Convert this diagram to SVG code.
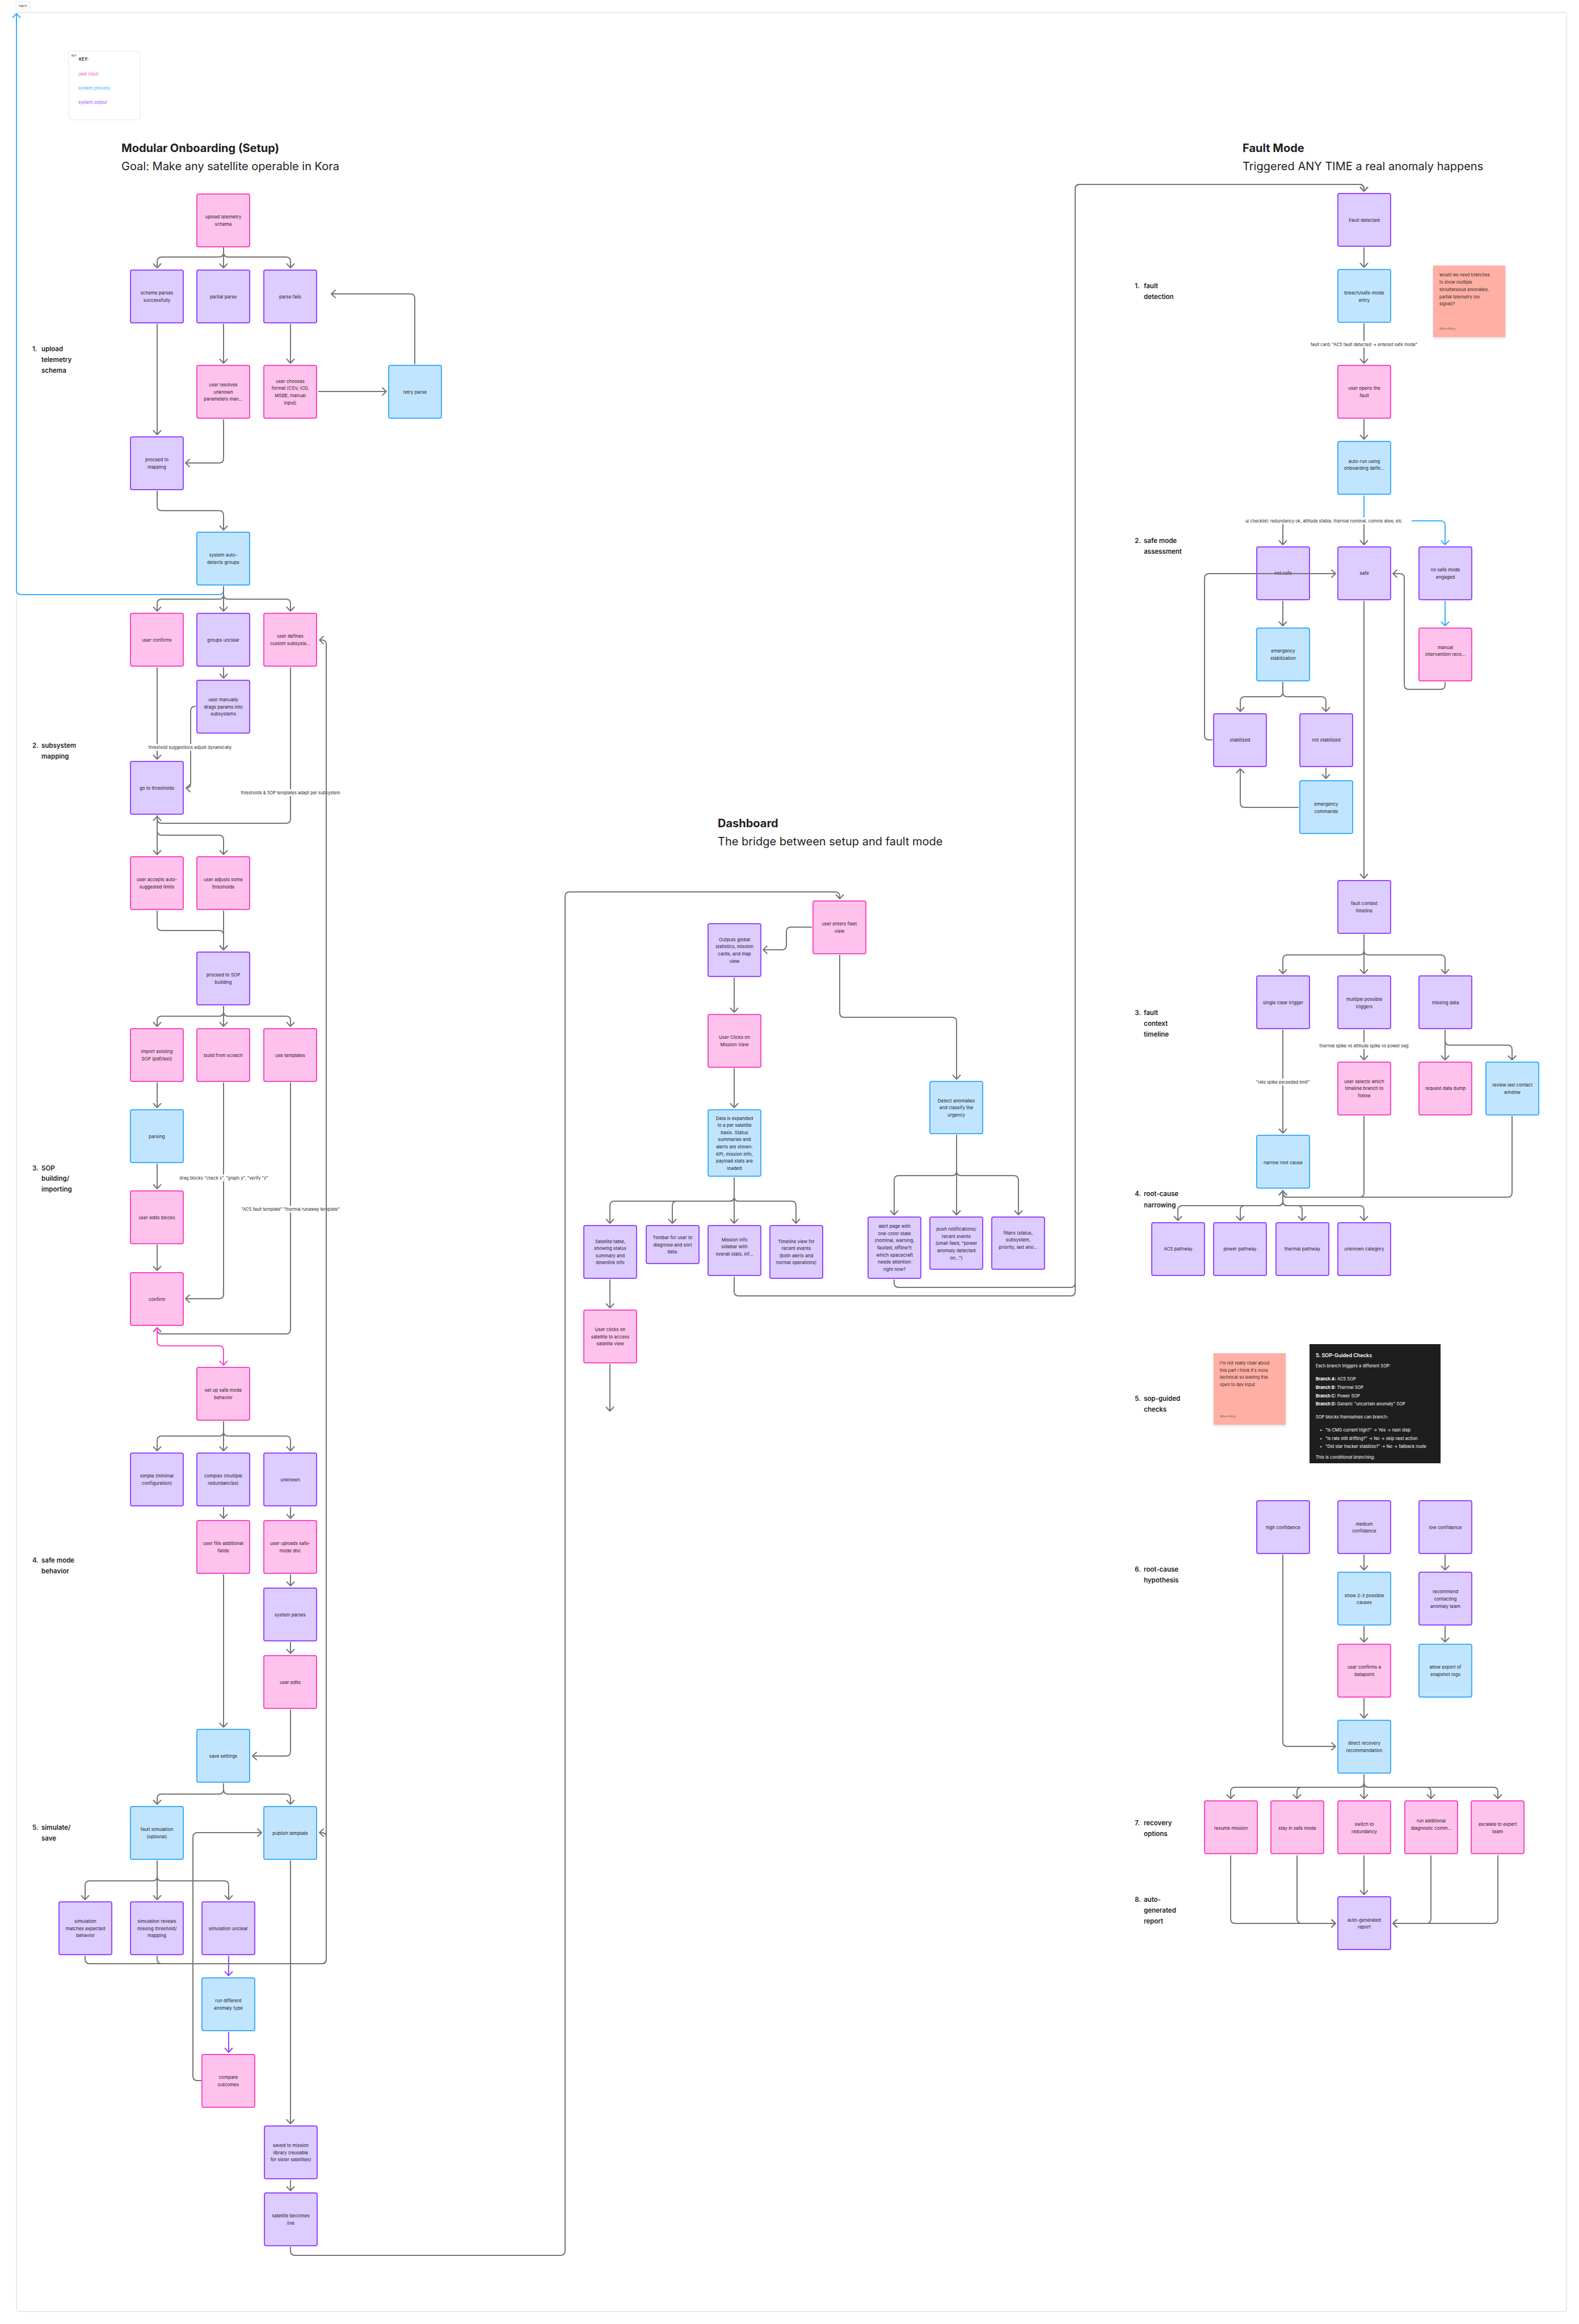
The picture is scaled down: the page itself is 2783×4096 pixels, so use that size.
<svg xmlns="http://www.w3.org/2000/svg" width="2783" height="4096" viewBox="0 0 2783 4096">
<defs>
<style>
.pk{fill:#FFC2EC;stroke:#F849C1;stroke-width:2}
.pu{fill:#DCCCFF;stroke:#9747FF;stroke-width:2}
.bl{fill:#C2E5FF;stroke:#3DADFF;stroke-width:2}
.t{font-family:Inter,'Liberation Sans',sans-serif;font-size:8px;fill:#1E1E1E;text-anchor:middle;dominant-baseline:central}
.sl{font-family:Inter,'Liberation Sans',sans-serif;font-size:11.5px;font-weight:600;fill:#1E1E1E;dominant-baseline:central}
.h1{font-family:Inter,'Liberation Sans',sans-serif;font-size:20px;font-weight:700;fill:#1E1E1E;dominant-baseline:central}
.h2{font-family:Inter,'Liberation Sans',sans-serif;font-size:20px;fill:#1E1E1E;dominant-baseline:central}
.c{fill:none;stroke:#757575;stroke-width:2;marker-end:url(#a)}
.cp{fill:none;stroke:#F849C1;stroke-width:2;marker-end:url(#ap);marker-start:url(#ap)}
.cb{fill:none;stroke:#3DADFF;stroke-width:2;marker-end:url(#ab)}
.cv{fill:none;stroke:#9747FF;stroke-width:2;marker-end:url(#av)}
.lbg{fill:#FFFFFF}
.lb{font-family:Inter,'Liberation Sans',sans-serif;font-size:7.5px;fill:#1E1E1E;text-anchor:middle;dominant-baseline:central}
.st{font-family:Inter,'Liberation Sans',sans-serif;font-size:7.5px;fill:#1E1E1E;dominant-baseline:central}
.au{font-family:Inter,'Liberation Sans',sans-serif;font-size:4.5px;fill:#6b5a57;dominant-baseline:central}
.dk{font-family:Inter,'Liberation Sans',sans-serif;font-size:7.5px;fill:#FFFFFF;dominant-baseline:central}
</style>
<marker id="a" viewBox="-10 -8 12 16" refX="0" refY="0" markerWidth="12" markerHeight="16" markerUnits="userSpaceOnUse" orient="auto"><path d="M-7,-6.5 L0,0 L-7,6.5" fill="none" stroke="#757575" stroke-width="2" stroke-linecap="round" stroke-linejoin="round"/></marker>
<marker id="ap" viewBox="-10 -8 12 16" refX="0" refY="0" markerWidth="12" markerHeight="16" markerUnits="userSpaceOnUse" orient="auto-start-reverse"><path d="M-7,-6.5 L0,0 L-7,6.5" fill="none" stroke="#F849C1" stroke-width="2" stroke-linecap="round" stroke-linejoin="round"/></marker>
<marker id="ab" viewBox="-10 -8 12 16" refX="0" refY="0" markerWidth="12" markerHeight="16" markerUnits="userSpaceOnUse" orient="auto"><path d="M-7,-6.5 L0,0 L-7,6.5" fill="none" stroke="#3DADFF" stroke-width="2" stroke-linecap="round" stroke-linejoin="round"/></marker>
<marker id="av" viewBox="-10 -8 12 16" refX="0" refY="0" markerWidth="12" markerHeight="16" markerUnits="userSpaceOnUse" orient="auto"><path d="M-7,-6.5 L0,0 L-7,6.5" fill="none" stroke="#9747FF" stroke-width="2" stroke-linecap="round" stroke-linejoin="round"/></marker>
<filter id="sh" x="-10%" y="-10%" width="120%" height="130%"><feDropShadow dx="0" dy="2" stdDeviation="2" flood-color="#000" flood-opacity="0.15"/></filter>
</defs>
<rect x="0" y="0" width="2783" height="4096" fill="#FFFFFF"/>
<g id="frame">
<rect x="29" y="22" width="2732" height="4052" rx="4" fill="#FFFFFF" stroke="#E3E3E3" stroke-width="1.5"/>
<rect x="28" y="3" width="24" height="14" rx="2" fill="#FFFFFF" stroke="#E6E6E6" stroke-width="1"/>
<text x="40" y="10" class="lb" style="font-size:5px">logic2</text>
</g>
<g id="legend">
<rect x="121" y="90" width="126" height="121" rx="5" fill="#FFFFFF" stroke="#E6E6E6" stroke-width="1"/>
<text x="126" y="98" class="st" style="font-size:4.5px">KEY</text>
<text x="139" y="104" class="st" style="font-weight:600">KEY:</text>
<text x="138" y="130" class="st" style="fill:#F24EC0">user input</text>
<text x="138" y="155" class="st" style="fill:#3DADFF">system process</text>
<text x="138" y="180" class="st" style="fill:#9747FF">system output</text>
</g>
<g id="titles">
<text x="214" y="261" class="h1">Modular Onboarding (Setup)</text>
<text x="214" y="293" class="h2">Goal: Make any satellite operable in Kora</text>
<text x="1265" y="1451" class="h1">Dashboard</text>
<text x="1265" y="1483" class="h2">The bridge between setup and fault mode</text>
<text x="2190" y="261" class="h1">Fault Mode</text>
<text x="2190" y="293" class="h2">Triggered ANY TIME a real anomaly happens</text>
</g>
<g id="section-labels">
<text class="sl" x="57" y="615">1.</text><text class="sl" x="73" y="615">upload</text><text class="sl" x="73" y="634">telemetry</text><text class="sl" x="73" y="653">schema</text>
<text class="sl" x="57" y="1314">2.</text><text class="sl" x="73" y="1314">subsystem</text><text class="sl" x="73" y="1333">mapping</text>
<text class="sl" x="57" y="2059">3.</text><text class="sl" x="73" y="2059">SOP</text><text class="sl" x="73" y="2077">building/</text><text class="sl" x="73" y="2096">importing</text>
<text class="sl" x="57" y="2750">4.</text><text class="sl" x="73" y="2750">safe mode</text><text class="sl" x="73" y="2769">behavior</text>
<text class="sl" x="57" y="3221">5.</text><text class="sl" x="73" y="3221">simulate/</text><text class="sl" x="73" y="3240">save</text>
<text class="sl" x="2000" y="504">1.</text><text class="sl" x="2016" y="504">fault</text><text class="sl" x="2016" y="523">detection</text>
<text class="sl" x="2000" y="953">2.</text><text class="sl" x="2016" y="953">safe mode</text><text class="sl" x="2016" y="972">assessment</text>
<text class="sl" x="2000" y="1785">3.</text><text class="sl" x="2016" y="1785">fault</text><text class="sl" x="2016" y="1804">context</text><text class="sl" x="2016" y="1823">timeline</text>
<text class="sl" x="2000" y="2104">4.</text><text class="sl" x="2016" y="2104">root-cause</text><text class="sl" x="2016" y="2124">narrowing</text>
<text class="sl" x="2000" y="2465">5.</text><text class="sl" x="2016" y="2465">sop-guided</text><text class="sl" x="2016" y="2484">checks</text>
<text class="sl" x="2000" y="2766">6.</text><text class="sl" x="2016" y="2766">root-cause</text><text class="sl" x="2016" y="2785">hypothesis</text>
<text class="sl" x="2000" y="3213">7.</text><text class="sl" x="2016" y="3213">recovery</text><text class="sl" x="2016" y="3232">options</text>
<text class="sl" x="2000" y="3348">8.</text><text class="sl" x="2016" y="3348">auto-</text><text class="sl" x="2016" y="3367">generated</text><text class="sl" x="2016" y="3386">report</text>
</g>

<g id="n-upload"><rect class="pk" x="347" y="342" width="93" height="93" rx="3"/><text class="t"><tspan x="393.5" y="382">upload telemetry</tspan><tspan x="393.5" y="395">schema</tspan></text></g>
<g id="n-scheme-parses"><rect class="pu" x="230" y="476" width="93" height="93" rx="3"/><text class="t"><tspan x="276.5" y="516">scheme parses</tspan><tspan x="276.5" y="529">successfully</tspan></text></g>
<g id="n-partial-parse"><rect class="pu" x="347" y="476" width="93" height="93" rx="3"/><text class="t" x="393.5" y="522.5">partial parse</text></g>
<g id="n-parse-fails"><rect class="pu" x="465" y="476" width="93" height="93" rx="3"/><text class="t" x="511.5" y="522.5">parse fails</text></g>
<g id="n-user-resolves"><rect class="pk" x="347" y="644" width="93" height="93" rx="3"/><text class="t"><tspan x="393.5" y="678">user resolves</tspan><tspan x="393.5" y="690.5">unknown</tspan><tspan x="393.5" y="703">parameters man...</tspan></text></g>
<g id="n-user-chooses"><rect class="pk" x="465" y="644" width="93" height="93" rx="3"/><text class="t"><tspan x="511.5" y="671.5">user chooses</tspan><tspan x="511.5" y="684">format (CSV, ICD,</tspan><tspan x="511.5" y="697">MSBE, manual</tspan><tspan x="511.5" y="709.5">input)</tspan></text></g>
<g id="n-retry-parse"><rect class="bl" x="685" y="644" width="93" height="93" rx="3"/><text class="t" x="731.5" y="690.5">retry parse</text></g>
<g id="n-proceed-mapping"><rect class="pu" x="230" y="770" width="93" height="93" rx="3"/><text class="t"><tspan x="276.5" y="810">proceed to</tspan><tspan x="276.5" y="823">mapping</tspan></text></g>
<g id="n-system-auto"><rect class="bl" x="347" y="938" width="93" height="93" rx="3"/><text class="t"><tspan x="393.5" y="978">system auto-</tspan><tspan x="393.5" y="991">detects groups</tspan></text></g>
<g id="n-user-confirms"><rect class="pk" x="230" y="1081" width="93" height="93" rx="3"/><text class="t" x="276.5" y="1127.5">user confirms</text></g>
<g id="n-groups-unclear"><rect class="pu" x="347" y="1081" width="93" height="93" rx="3"/><text class="t" x="393.5" y="1127.5">groups unclear</text></g>
<g id="n-user-defines"><rect class="pk" x="465" y="1081" width="93" height="93" rx="3"/><text class="t"><tspan x="511.5" y="1121">user defines</tspan><tspan x="511.5" y="1134">custom subsyste...</tspan></text></g>
<g id="n-user-drags"><rect class="pu" x="347" y="1199" width="93" height="93" rx="3"/><text class="t"><tspan x="393.5" y="1233">user manually</tspan><tspan x="393.5" y="1245.5">drags params into</tspan><tspan x="393.5" y="1258">subsystems</tspan></text></g>
<g id="n-go-thresholds"><rect class="pu" x="230" y="1342" width="93" height="93" rx="3"/><text class="t" x="276.5" y="1388.5">go to thresholds</text></g>
<g id="n-user-accepts"><rect class="pk" x="230" y="1510" width="93" height="93" rx="3"/><text class="t"><tspan x="276.5" y="1550">user accepts auto-</tspan><tspan x="276.5" y="1563">suggested limits</tspan></text></g>
<g id="n-user-adjusts"><rect class="pk" x="347" y="1510" width="93" height="93" rx="3"/><text class="t"><tspan x="393.5" y="1550">user adjusts some</tspan><tspan x="393.5" y="1563">thresholds</tspan></text></g>
<g id="n-proceed-sop"><rect class="pu" x="347" y="1678" width="93" height="93" rx="3"/><text class="t"><tspan x="393.5" y="1718">proceed to SOP</tspan><tspan x="393.5" y="1731">building</tspan></text></g>
<g id="n-import-sop"><rect class="pk" x="230" y="1813" width="93" height="93" rx="3"/><text class="t"><tspan x="276.5" y="1853">import existing</tspan><tspan x="276.5" y="1866">SOP (pdf/text)</tspan></text></g>
<g id="n-build-scratch"><rect class="pk" x="347" y="1813" width="93" height="93" rx="3"/><text class="t" x="393.5" y="1859.5">build from scratch</text></g>
<g id="n-use-templates"><rect class="pk" x="465" y="1813" width="93" height="93" rx="3"/><text class="t" x="511.5" y="1859.5">use templates</text></g>
<g id="n-parsing"><rect class="bl" x="230" y="1956" width="93" height="93" rx="3"/><text class="t" x="276.5" y="2002.5">parsing</text></g>
<g id="n-user-edits-blocks"><rect class="pk" x="230" y="2099" width="93" height="93" rx="3"/><text class="t" x="276.5" y="2145.5">user edits blocks</text></g>
<g id="n-confirm"><rect class="pk" x="230" y="2243" width="93" height="93" rx="3"/><text class="t" x="276.5" y="2289.5">confirm</text></g>
<g id="n-setup-safe"><rect class="pk" x="347" y="2410" width="93" height="93" rx="3"/><text class="t"><tspan x="393.5" y="2450">set up safe mode</tspan><tspan x="393.5" y="2463">behavior</tspan></text></g>
<g id="n-simple"><rect class="pu" x="230" y="2561" width="93" height="93" rx="3"/><text class="t"><tspan x="276.5" y="2601">simple (minimal</tspan><tspan x="276.5" y="2614">configuration)</tspan></text></g>
<g id="n-complex"><rect class="pu" x="347" y="2561" width="93" height="93" rx="3"/><text class="t"><tspan x="393.5" y="2601">complex (multiple</tspan><tspan x="393.5" y="2614">redundancies)</tspan></text></g>
<g id="n-unknown"><rect class="pu" x="465" y="2561" width="93" height="93" rx="3"/><text class="t" x="511.5" y="2607.5">unknown</text></g>
<g id="n-user-fills"><rect class="pk" x="347" y="2680" width="93" height="93" rx="3"/><text class="t"><tspan x="393.5" y="2720">user fills additional</tspan><tspan x="393.5" y="2733">fields</tspan></text></g>
<g id="n-user-uploads"><rect class="pk" x="465" y="2680" width="93" height="93" rx="3"/><text class="t"><tspan x="511.5" y="2720">user uploads safe-</tspan><tspan x="511.5" y="2733">mode doc</tspan></text></g>
<g id="n-system-parses"><rect class="pu" x="465" y="2799" width="93" height="93" rx="3"/><text class="t" x="511.5" y="2845.5">system parses</text></g>
<g id="n-user-edits"><rect class="pk" x="465" y="2918" width="93" height="93" rx="3"/><text class="t" x="511.5" y="2964.5">user edits</text></g>
<g id="n-save-settings"><rect class="bl" x="347" y="3048" width="93" height="93" rx="3"/><text class="t" x="393.5" y="3094.5">save settings</text></g>
<g id="n-fault-sim"><rect class="bl" x="230" y="3184" width="93" height="93" rx="3"/><text class="t"><tspan x="276.5" y="3224">fault simulation</tspan><tspan x="276.5" y="3237">(optional)</tspan></text></g>
<g id="n-publish"><rect class="bl" x="465" y="3184" width="93" height="93" rx="3"/><text class="t" x="511.5" y="3230.5">publish template</text></g>
<g id="n-sim-matches"><rect class="pu" x="104" y="3352" width="93" height="93" rx="3"/><text class="t"><tspan x="150.5" y="3386">simulation</tspan><tspan x="150.5" y="3398.5">matches expected</tspan><tspan x="150.5" y="3411">behavior</tspan></text></g>
<g id="n-sim-reveals"><rect class="pu" x="230" y="3352" width="93" height="93" rx="3"/><text class="t"><tspan x="276.5" y="3386">simulation reveals</tspan><tspan x="276.5" y="3398.5">missing threshold/</tspan><tspan x="276.5" y="3411">mapping</tspan></text></g>
<g id="n-sim-unclear"><rect class="pu" x="356" y="3352" width="93" height="93" rx="3"/><text class="t" x="402.5" y="3398.5">simulation unclear</text></g>
<g id="n-run-different"><rect class="bl" x="356" y="3486" width="93" height="93" rx="3"/><text class="t"><tspan x="402.5" y="3526">run different</tspan><tspan x="402.5" y="3539">anomaly type</tspan></text></g>
<g id="n-compare"><rect class="pk" x="356" y="3621" width="93" height="93" rx="3"/><text class="t"><tspan x="402.5" y="3661">compare</tspan><tspan x="402.5" y="3674">outcomes</tspan></text></g>
<g id="n-saved-library"><rect class="pu" x="466" y="3747" width="93" height="93" rx="3"/><text class="t"><tspan x="512.5" y="3781">saved to mission</tspan><tspan x="512.5" y="3793.5">library (reusable</tspan><tspan x="512.5" y="3806">for sister satellites)</tspan></text></g>
<g id="n-satellite-live"><rect class="pu" x="466" y="3865" width="93" height="93" rx="3"/><text class="t"><tspan x="512.5" y="3905">satellite becomes</tspan><tspan x="512.5" y="3918">live</tspan></text></g>

<g id="d-fleet"><rect class="pk" x="1433" y="1588" width="93" height="93" rx="3"/><text class="t"><tspan x="1479.5" y="1628">user enters fleet</tspan><tspan x="1479.5" y="1641">view</tspan></text></g>
<g id="d-outputs"><rect class="pu" x="1248" y="1628" width="93" height="93" rx="3"/><text class="t"><tspan x="1294.5" y="1655.5">Outputs global</tspan><tspan x="1294.5" y="1668">statistics, mission</tspan><tspan x="1294.5" y="1681">cards, and map</tspan><tspan x="1294.5" y="1693.5">view</tspan></text></g>
<g id="d-mission-view"><rect class="pk" x="1248" y="1788" width="93" height="93" rx="3"/><text class="t"><tspan x="1294.5" y="1828">User Clicks on</tspan><tspan x="1294.5" y="1841">Mission View</tspan></text></g>
<g id="d-data-expanded"><rect class="bl" x="1248" y="1956" width="93" height="117" rx="3"/><text class="t"><tspan x="1294.5" y="1970.5">Data is expanded</tspan><tspan x="1294.5" y="1983">to a per satellite</tspan><tspan x="1294.5" y="1995.5">basis. Status</tspan><tspan x="1294.5" y="2008">summaries and</tspan><tspan x="1294.5" y="2021">alerts are shown.</tspan><tspan x="1294.5" y="2033.5">KPI, mission info,</tspan><tspan x="1294.5" y="2046">payload stats are</tspan><tspan x="1294.5" y="2058.5">loaded</tspan></text></g>
<g id="d-sat-table"><rect class="pu" x="1029" y="2160" width="93" height="93" rx="3"/><text class="t"><tspan x="1075.5" y="2187.5">Satellite table,</tspan><tspan x="1075.5" y="2200">showing status</tspan><tspan x="1075.5" y="2212.5">summary and</tspan><tspan x="1075.5" y="2225">downlink info</tspan></text></g>
<g id="d-toolbar"><rect class="pu" x="1139" y="2160" width="93" height="67" rx="3"/><text class="t"><tspan x="1185.5" y="2181">Toolbar for user to</tspan><tspan x="1185.5" y="2193.5">diagnose and sort</tspan><tspan x="1185.5" y="2206">data.</tspan></text></g>
<g id="d-mission-info"><rect class="pu" x="1248" y="2160" width="93" height="88" rx="3"/><text class="t"><tspan x="1294.5" y="2184.5">Mission info</tspan><tspan x="1294.5" y="2197">sidebar with</tspan><tspan x="1294.5" y="2209.5">overall stats, inf...</tspan></text></g>
<g id="d-timeline-view"><rect class="pu" x="1357" y="2160" width="93" height="93" rx="3"/><text class="t"><tspan x="1403.5" y="2187.5">Timeline view for</tspan><tspan x="1403.5" y="2200">recent events</tspan><tspan x="1403.5" y="2212.5">(both alerts and</tspan><tspan x="1403.5" y="2225">normal operations)</tspan></text></g>
<g id="d-user-clicks-sat"><rect class="pk" x="1029" y="2309" width="93" height="93" rx="3"/><text class="t"><tspan x="1075.5" y="2343">User clicks on</tspan><tspan x="1075.5" y="2355.5">satellite to access</tspan><tspan x="1075.5" y="2368">satellite view</tspan></text></g>
<g id="d-detect"><rect class="bl" x="1639" y="1906" width="93" height="92" rx="3"/><text class="t"><tspan x="1685.5" y="1939.5">Detect anomalies</tspan><tspan x="1685.5" y="1952">and classify the</tspan><tspan x="1685.5" y="1964.5">urgency</tspan></text></g>
<g id="d-alert-page"><rect class="pu" x="1530" y="2145" width="93" height="108" rx="3"/><text class="t"><tspan x="1576.5" y="2161">alert page with</tspan><tspan x="1576.5" y="2173.5">one-color state</tspan><tspan x="1576.5" y="2186">(nominal, warning,</tspan><tspan x="1576.5" y="2199">faulted, offline?)</tspan><tspan x="1576.5" y="2211.5">which spacecraft</tspan><tspan x="1576.5" y="2224">needs attention</tspan><tspan x="1576.5" y="2236.5">right now?</tspan></text></g>
<g id="d-push"><rect class="pu" x="1639" y="2145" width="93" height="92" rx="3"/><text class="t"><tspan x="1685.5" y="2166">push notifications/</tspan><tspan x="1685.5" y="2178.5">recent events</tspan><tspan x="1685.5" y="2191">(small feed, "power</tspan><tspan x="1685.5" y="2204">anomaly detected</tspan><tspan x="1685.5" y="2216.5">on...")</tspan></text></g>
<g id="d-filters"><rect class="pu" x="1748" y="2145" width="93" height="92" rx="3"/><text class="t"><tspan x="1794.5" y="2172.5">filters (status,</tspan><tspan x="1794.5" y="2185">subsystem,</tspan><tspan x="1794.5" y="2197.5">priority, last ano...</tspan></text></g>

<g id="f-fault-detected"><rect class="pu" x="2358" y="341" width="93" height="93" rx="3"/><text class="t" x="2404.5" y="387.5">Fault detected</text></g>
<g id="f-breach"><rect class="bl" x="2358" y="475" width="93" height="93" rx="3"/><text class="t"><tspan x="2404.5" y="515.5">breach/safe-mode</tspan><tspan x="2404.5" y="528.5">entry</tspan></text></g>
<g id="f-user-opens"><rect class="pk" x="2358" y="644" width="93" height="93" rx="3"/><text class="t"><tspan x="2404.5" y="684">user opens the</tspan><tspan x="2404.5" y="697">fault</tspan></text></g>
<g id="f-auto-run"><rect class="bl" x="2358" y="778" width="93" height="93" rx="3"/><text class="t"><tspan x="2404.5" y="812.5">auto-run using</tspan><tspan x="2404.5" y="825">onboarding defin...</tspan></text></g>
<g id="f-not-safe"><rect class="pu" x="2215" y="964" width="93" height="93" rx="3"/><text class="t" x="2261.5" y="1010">not safe</text></g>
<g id="f-safe"><rect class="pu" x="2358" y="964" width="93" height="93" rx="3"/><text class="t" x="2404.5" y="1010">safe</text></g>
<g id="f-no-safe"><rect class="pu" x="2501" y="964" width="93" height="93" rx="3"/><text class="t"><tspan x="2547.5" y="1003.5">no safe mode</tspan><tspan x="2547.5" y="1016.5">engaged</tspan></text></g>
<g id="f-em-stab"><rect class="bl" x="2215" y="1107" width="93" height="93" rx="3"/><text class="t"><tspan x="2261.5" y="1147">emergency</tspan><tspan x="2261.5" y="1159.5">stabilization</tspan></text></g>
<g id="f-manual"><rect class="pk" x="2501" y="1107" width="93" height="93" rx="3"/><text class="t"><tspan x="2547.5" y="1140.5">manual</tspan><tspan x="2547.5" y="1153">intervention reco...</tspan></text></g>
<g id="f-stabilized"><rect class="pu" x="2139" y="1258" width="93" height="93" rx="3"/><text class="t" x="2185.5" y="1304">stabilized</text></g>
<g id="f-not-stabilized"><rect class="pu" x="2291" y="1258" width="93" height="93" rx="3"/><text class="t" x="2337.5" y="1304">not stabilized</text></g>
<g id="f-em-commands"><rect class="bl" x="2291" y="1376" width="93" height="93" rx="3"/><text class="t"><tspan x="2337.5" y="1417">emergency</tspan><tspan x="2337.5" y="1430">commands</tspan></text></g>
<g id="f-context-timeline"><rect class="pu" x="2358" y="1552" width="93" height="93" rx="3"/><text class="t"><tspan x="2404.5" y="1592">fault context</tspan><tspan x="2404.5" y="1604.5">timeline</tspan></text></g>
<g id="f-single"><rect class="pu" x="2215" y="1720" width="93" height="93" rx="3"/><text class="t" x="2261.5" y="1766.5">single clear trigger</text></g>
<g id="f-multiple"><rect class="pu" x="2358" y="1720" width="93" height="93" rx="3"/><text class="t"><tspan x="2404.5" y="1760.5">multiple possible</tspan><tspan x="2404.5" y="1773.5">triggers</tspan></text></g>
<g id="f-missing"><rect class="pu" x="2501" y="1720" width="93" height="93" rx="3"/><text class="t" x="2547.5" y="1766.5">missing data</text></g>
<g id="f-user-selects"><rect class="pk" x="2358" y="1872" width="93" height="93" rx="3"/><text class="t"><tspan x="2404.5" y="1905.5">user selects which</tspan><tspan x="2404.5" y="1918">timeline branch to</tspan><tspan x="2404.5" y="1930.5">follow</tspan></text></g>
<g id="f-request-dump"><rect class="pk" x="2501" y="1872" width="93" height="93" rx="3"/><text class="t" x="2547.5" y="1918">request data dump</text></g>
<g id="f-review-contact"><rect class="bl" x="2619" y="1872" width="93" height="93" rx="3"/><text class="t"><tspan x="2665.5" y="1912">review last contact</tspan><tspan x="2665.5" y="1924.5">window</tspan></text></g>
<g id="f-narrow"><rect class="bl" x="2215" y="2001" width="93" height="93" rx="3"/><text class="t" x="2261.5" y="2048.5">narrow root cause</text></g>
<g id="f-acs"><rect class="pu" x="2030" y="2155" width="93" height="93" rx="3"/><text class="t" x="2076.5" y="2201">ACS pathway</text></g>
<g id="f-power"><rect class="pu" x="2139" y="2155" width="93" height="93" rx="3"/><text class="t" x="2185.5" y="2201">power pathway</text></g>
<g id="f-thermal"><rect class="pu" x="2249" y="2155" width="93" height="93" rx="3"/><text class="t" x="2295.5" y="2201">thermal pathway</text></g>
<g id="f-unknown-cat"><rect class="pu" x="2358" y="2155" width="93" height="93" rx="3"/><text class="t" x="2404.5" y="2201">unknown category</text></g>
<g id="f-high"><rect class="pu" x="2215" y="2645" width="93" height="93" rx="3"/><text class="t" x="2261.5" y="2692">high confidence</text></g>
<g id="f-medium"><rect class="pu" x="2358" y="2645" width="93" height="93" rx="3"/><text class="t"><tspan x="2404.5" y="2685.5">medium</tspan><tspan x="2404.5" y="2698">confidence</tspan></text></g>
<g id="f-low"><rect class="pu" x="2501" y="2645" width="93" height="93" rx="3"/><text class="t" x="2547.5" y="2692">low confidence</text></g>
<g id="f-show-causes"><rect class="bl" x="2358" y="2771" width="93" height="93" rx="3"/><text class="t"><tspan x="2404.5" y="2811.5">show 2-3 possible</tspan><tspan x="2404.5" y="2824">causes</tspan></text></g>
<g id="f-recommend"><rect class="pu" x="2501" y="2771" width="93" height="93" rx="3"/><text class="t"><tspan x="2547.5" y="2805">recommend</tspan><tspan x="2547.5" y="2818">contacting</tspan><tspan x="2547.5" y="2830.5">anomaly team</tspan></text></g>
<g id="f-user-confirms"><rect class="pk" x="2358" y="2898" width="93" height="93" rx="3"/><text class="t"><tspan x="2404.5" y="2937.5">user confirms a</tspan><tspan x="2404.5" y="2950.5">datapoint</tspan></text></g>
<g id="f-export"><rect class="bl" x="2501" y="2898" width="93" height="93" rx="3"/><text class="t"><tspan x="2547.5" y="2937.5">allow export of</tspan><tspan x="2547.5" y="2950.5">snapshot logs</tspan></text></g>
<g id="f-direct"><rect class="bl" x="2358" y="3032" width="93" height="93" rx="3"/><text class="t"><tspan x="2404.5" y="3072">direct recovery</tspan><tspan x="2404.5" y="3085">recommendation</tspan></text></g>
<g id="f-resume"><rect class="pk" x="2123" y="3174" width="93" height="93" rx="3"/><text class="t" x="2169.5" y="3222">resume mission</text></g>
<g id="f-stay"><rect class="pk" x="2240" y="3174" width="93" height="93" rx="3"/><text class="t" x="2286.5" y="3222">stay in safe mode</text></g>
<g id="f-switch"><rect class="pk" x="2358" y="3174" width="93" height="93" rx="3"/><text class="t"><tspan x="2404.5" y="3215">switch to</tspan><tspan x="2404.5" y="3227.5">redundancy</tspan></text></g>
<g id="f-run-diag"><rect class="pk" x="2476" y="3174" width="93" height="93" rx="3"/><text class="t"><tspan x="2522.5" y="3209">run additional</tspan><tspan x="2522.5" y="3222">diagnostic comm...</tspan></text></g>
<g id="f-escalate"><rect class="pk" x="2593" y="3174" width="93" height="93" rx="3"/><text class="t"><tspan x="2639.5" y="3215">escalate to expert</tspan><tspan x="2639.5" y="3227.5">team</tspan></text></g>
<g id="f-report"><rect class="pu" x="2358" y="3343" width="93" height="93" rx="3"/><text class="t"><tspan x="2404.5" y="3383.5">auto-generated</tspan><tspan x="2404.5" y="3396">report</tspan></text></g>

<g id="sticky-1" filter="url(#sh)"><rect x="2526" y="468" width="127" height="126" fill="#FFAFA3"/><text class="st"><tspan x="2537" y="484">would we need branches</tspan><tspan x="2537" y="497">to show multiple</tspan><tspan x="2537" y="510">simultaneous anomalies,</tspan><tspan x="2537" y="522.5">partial telemetry (no</tspan><tspan x="2537" y="535">signal)?</tspan></text><text class="au" x="2537" y="579">Allison Wong</text></g>
<g id="sticky-2" filter="url(#sh)"><rect x="2139" y="2385" width="127" height="126" fill="#FFAFA3"/><text class="st"><tspan x="2150" y="2402">I'm not really clear about</tspan><tspan x="2150" y="2414.5">this part i think it's more</tspan><tspan x="2150" y="2427">technical so leaving this</tspan><tspan x="2150" y="2440">open to dev input</tspan></text><text class="au" x="2150" y="2496">Allison Wong</text></g>
<g id="sop-note">
<rect x="2308" y="2369" width="231" height="210" fill="#1E1E1E"/>
<text class="dk" x="2319" y="2388" style="font-size:9px;font-weight:600">5. SOP-Guided Checks</text>
<text class="dk" x="2319" y="2407">Each branch triggers a different SOP:</text>
<text class="dk" x="2319" y="2430"><tspan font-weight="700">Branch A:</tspan> ACS SOP</text>
<text class="dk" x="2319" y="2445"><tspan font-weight="700">Branch B:</tspan> Thermal SOP</text>
<text class="dk" x="2319" y="2460"><tspan font-weight="700">Branch C:</tspan> Power SOP</text>
<text class="dk" x="2319" y="2474"><tspan font-weight="700">Branch D:</tspan> Generic "uncertain anomaly" SOP</text>
<text class="dk" x="2319" y="2497">SOP blocks themselves can branch:</text>
<text class="dk" x="2326" y="2520">•</text><text class="dk" x="2336" y="2520">"Is CMG current high?" → Yes → next step</text>
<text class="dk" x="2326" y="2535">•</text><text class="dk" x="2336" y="2535">"Is rate still drifting?" → No → skip next action</text>
<text class="dk" x="2326" y="2549">•</text><text class="dk" x="2336" y="2549">"Did star tracker stabilize?" → No → fallback route</text>
<text class="dk" x="2319" y="2568">This is <tspan font-style="italic">conditional branching</tspan>.</text>
</g>

<g id="connectors">
<path class="c" d="M394,436 V472"/>
<path class="c" d="M394,436 V445 Q394,453 386,453 H285 Q277,453 277,461 V472"/>
<path class="c" d="M394,436 V445 Q394,453 402,453 H504 Q512,453 512,461 V472"/>
<path class="c" d="M277,571 V766"/>
<path class="c" d="M394,571 V640"/>
<path class="c" d="M512,571 V640"/>
<path class="c" d="M561,690 H681"/>
<path class="c" d="M731,642 V526 Q731,518 723,518 H584"/>
<path class="c" d="M394,739 V808 Q394,816 386,816 H327"/>
<path class="c" d="M277,865 V892 Q277,900 285,900 H386 Q394,900 394,908 V934"/>
<path class="cb" d="M394,1033 V1040 Q394,1048 386,1048 H37 Q29,1048 29,1040 V24"/>
<path class="c" d="M394,1033 V1077"/>
<path class="c" d="M394,1033 V1048 Q394,1056 386,1056 H285 Q277,1056 277,1064 V1077"/>
<path class="c" d="M394,1033 V1048 Q394,1056 402,1056 H504 Q512,1056 512,1064 V1077"/>
<path class="c" d="M394,1176 V1195"/>
<path class="c" d="M277,1176 V1338"/>
<path class="c" d="M345,1245 H344 Q336,1245 336,1253 V1381 Q336,1389 328,1389"/>
<path class="c" d="M512,1176 V1443 Q512,1451 504,1451 H285 Q277,1451 277,1443 V1439"/>
<path class="c" d="M277,1437 V1506"/>
<path class="c" d="M277,1437 V1464 Q277,1472 285,1472 H386 Q394,1472 394,1480 V1506"/>
<path class="c" d="M277,1605 V1632 Q277,1640 285,1640 H386 Q394,1640 394,1648 V1674"/>
<path class="c" d="M394,1605 V1674"/>
<path class="c" d="M394,1773 V1809"/>
<path class="c" d="M394,1773 V1783 Q394,1791 386,1791 H285 Q277,1791 277,1799 V1809"/>
<path class="c" d="M394,1773 V1783 Q394,1791 402,1791 H504 Q512,1791 512,1799 V1809"/>
<path class="c" d="M277,1908 V1952"/>
<path class="c" d="M277,2051 V2095"/>
<path class="c" d="M277,2194 V2239"/>
<path class="c" d="M394,1908 V2281 Q394,2289 386,2289 H327"/>
<path class="c" d="M512,1908 V2343 Q512,2351 504,2351 H285 Q277,2351 277,2343 V2340"/>
<path class="cp" d="M277,2340 V2364 Q277,2372 285,2372 H386 Q394,2372 394,2380 V2406"/>
<path class="c" d="M394,2505 V2557"/>
<path class="c" d="M394,2505 V2523 Q394,2531 386,2531 H285 Q277,2531 277,2539 V2557"/>
<path class="c" d="M394,2505 V2523 Q394,2531 402,2531 H504 Q512,2531 512,2539 V2557"/>
<path class="c" d="M394,2656 V2676"/>
<path class="c" d="M512,2656 V2676"/>
<path class="c" d="M512,2775 V2795"/>
<path class="c" d="M512,2894 V2914"/>
<path class="c" d="M394,2775 V3044"/>
<path class="c" d="M512,3013 V3087 Q512,3095 504,3095 H445"/>
<path class="c" d="M394,3143 V3154 Q394,3162 386,3162 H285 Q277,3162 277,3170 V3180"/>
<path class="c" d="M394,3143 V3154 Q394,3162 402,3162 H504 Q512,3162 512,3170 V3180"/>
<path class="c" d="M277,3279 V3348"/>
<path class="c" d="M277,3279 V3307 Q277,3315 269,3315 H158 Q150,3315 150,3323 V3348"/>
<path class="c" d="M277,3279 V3307 Q277,3315 285,3315 H395 Q403,3315 403,3323 V3348"/>
<path class="cv" d="M403,3447 V3482"/>
<path class="cv" d="M403,3581 V3617"/>
<path class="c" d="M355,3667 H348 Q340,3667 340,3659 V3238 Q340,3230 348,3230 H461"/>
<path class="c" d="M512,3279 V3743"/>
<path class="c" d="M512,3842 V3861"/>
<path class="c" d="M512,3960 V3967 Q512,3975 520,3975 H988 Q996,3975 996,3967 V1580 Q996,1572 1004,1572 H1472 Q1480,1572 1480,1580 V1584"/>

<path class="c" d="M1431,1634 H1394 Q1386,1634 1386,1642 V1666 Q1386,1674 1378,1674 H1345"/>
<path class="c" d="M1294,1723 V1784"/>
<path class="c" d="M1294,1883 V1952"/>
<path class="c" d="M1294,2075 V2156"/>
<path class="c" d="M1294,2075 V2109 Q1294,2117 1286,2117 H1083 Q1075,2117 1075,2125 V2156"/>
<path class="c" d="M1294,2075 V2109 Q1294,2117 1286,2117 H1193 Q1185,2117 1185,2125 V2156"/>
<path class="c" d="M1294,2075 V2109 Q1294,2117 1302,2117 H1395 Q1403,2117 1403,2125 V2156"/>
<path class="c" d="M1075,2255 V2305"/>
<path class="c" d="M1075,2404 V2487"/>
<path class="c" d="M1480,1683 V1785 Q1480,1793 1488,1793 H1678 Q1686,1793 1686,1801 V1902"/>
<path class="c" d="M1686,2000 V2141"/>
<path class="c" d="M1686,2000 V2064 Q1686,2072 1678,2072 H1584 Q1576,2072 1576,2080 V2141"/>
<path class="c" d="M1686,2000 V2064 Q1686,2072 1694,2072 H1787 Q1795,2072 1795,2080 V2141"/>
<path class="c" d="M1576,2255 V2261 Q1576,2269 1584,2269 H1887 Q1895,2269 1895,2261 V333 Q1895,325 1903,325 H2396 Q2404,325 2404,333 V337"/>
<path class="c" d="M1294,2250 V2276 Q1294,2284 1302,2284 H1887 Q1895,2284 1895,2276 V333 Q1895,325 1903,325 H2396 Q2404,325 2404,333 V337"/>

<path class="c" d="M2404,436 V471"/>
<path class="c" d="M2404,570 V640"/>
<path class="c" d="M2404,739 V774"/>
<path class="c" d="M2404,873 V960"/>
<path class="c" d="M2404,873 V910 Q2404,918 2396,918 H2269 Q2261,918 2261,926 V960"/>
<path class="cb" d="M2404,873 V910 Q2404,918 2412,918 H2539 Q2547,918 2547,926 V960"/>
<path class="c" d="M2261,1059 V1103"/>
<path class="cb" d="M2547,1059 V1103"/>
<path class="c" d="M2547,1202 V1207 Q2547,1215 2539,1215 H2483 Q2475,1215 2475,1207 V1019 Q2475,1011 2467,1011 H2455"/>
<path class="c" d="M2137,1304 H2131 Q2123,1304 2123,1296 V1019 Q2123,1011 2131,1011 H2354"/>
<path class="c" d="M2261,1202 V1220 Q2261,1228 2253,1228 H2194 Q2186,1228 2186,1236 V1254"/>
<path class="c" d="M2261,1202 V1220 Q2261,1228 2269,1228 H2329 Q2337,1228 2337,1236 V1254"/>
<path class="c" d="M2337,1353 V1372"/>
<path class="c" d="M2289,1423 H2194 Q2186,1423 2186,1415 V1355"/>
<path class="c" d="M2404,1059 V1548"/>
<path class="c" d="M2404,1647 V1716"/>
<path class="c" d="M2404,1647 V1675 Q2404,1683 2396,1683 H2269 Q2261,1683 2261,1691 V1716"/>
<path class="c" d="M2404,1647 V1675 Q2404,1683 2412,1683 H2539 Q2547,1683 2547,1691 V1716"/>
<path class="c" d="M2261,1815 V1997"/>
<path class="c" d="M2404,1815 V1868"/>
<path class="c" d="M2547,1815 V1868"/>
<path class="c" d="M2547,1815 V1834 Q2547,1842 2555,1842 H2657 Q2665,1842 2665,1850 V1868"/>
<path class="c" d="M2404,1967 V2102 Q2404,2110 2396,2110 H2269 Q2261,2110 2261,2102 V2099"/>
<path class="c" d="M2665,1967 V2102 Q2665,2110 2657,2110 H2269 Q2261,2110 2261,2102 V2099"/>
<path class="c" d="M2261,2097 V2117 Q2261,2125 2253,2125 H2084 Q2076,2125 2076,2133 V2151"/>
<path class="c" d="M2261,2097 V2117 Q2261,2125 2253,2125 H2194 Q2186,2125 2186,2133 V2151"/>
<path class="c" d="M2261,2097 V2117 Q2261,2125 2269,2125 H2287 Q2295,2125 2295,2133 V2151"/>
<path class="c" d="M2261,2097 V2117 Q2261,2125 2269,2125 H2396 Q2404,2125 2404,2133 V2151"/>
<path class="c" d="M2404,2740 V2767"/>
<path class="c" d="M2547,2740 V2767"/>
<path class="c" d="M2404,2866 V2894"/>
<path class="c" d="M2547,2866 V2894"/>
<path class="c" d="M2404,2993 V3028"/>
<path class="c" d="M2261,2740 V3070 Q2261,3078 2269,3078 H2354"/>
<path class="c" d="M2404,3127 V3170"/>
<path class="c" d="M2404,3127 V3142 Q2404,3150 2396,3150 H2177 Q2169,3150 2169,3158 V3170"/>
<path class="c" d="M2404,3127 V3142 Q2404,3150 2396,3150 H2294 Q2286,3150 2286,3158 V3170"/>
<path class="c" d="M2404,3127 V3142 Q2404,3150 2412,3150 H2514 Q2522,3150 2522,3158 V3170"/>
<path class="c" d="M2404,3127 V3142 Q2404,3150 2412,3150 H2632 Q2640,3150 2640,3158 V3170"/>
<path class="c" d="M2404,3270 V3339"/>
<path class="c" d="M2169,3270 V3382 Q2169,3390 2177,3390 H2354"/>
<path class="c" d="M2286,3270 V3382 Q2286,3390 2294,3390 H2354"/>
<path class="c" d="M2522,3270 V3382 Q2522,3390 2514,3390 H2455"/>
<path class="c" d="M2640,3270 V3382 Q2640,3390 2632,3390 H2455"/>

<g id="connector-labels">
<rect class="lbg" x="251" y="1311" width="168" height="12"/><text class="lb" x="335" y="1317">threshold suggestions adjust dynamically</text>
<rect class="lbg" x="412" y="1391" width="200" height="12"/><text class="lb" x="512" y="1397">thresholds &amp; SOP templates adapt per subsystem</text>
<rect class="lbg" x="309" y="2070" width="172" height="12"/><text class="lb" x="394.5" y="2076">drag blocks "check x", "graph y", "verify "z"</text>
<rect class="lbg" x="415" y="2125" width="195" height="12"/><text class="lb" x="512" y="2131">"ACS fault template" "thermal runaway template"</text>
<rect class="lbg" x="2298" y="601" width="212" height="12"/><text class="lb" x="2404" y="607">fault card: "ACS fault detected → entered safe mode"</text>
<rect class="lbg" x="2178" y="912" width="310" height="12"/><text class="lb" x="2333" y="918">ui checklist: redundancy ok, attitude stable, thermal nominal, comms alive, etc</text>
<rect class="lbg" x="2315" y="1837" width="178" height="12"/><text class="lb" x="2404" y="1843">thermal spike vs attitude spike vs power sag</text>
<rect class="lbg" x="2207" y="1901" width="108" height="12"/><text class="lb" x="2261" y="1907">"rate spike exceeded limit"</text>
</g>
<path class="c" d="M150,3447 V3453 Q150,3461 158,3461 H567 Q575,3461 575,3453 V3238 Q575,3230 567,3230 H563"/>
<path class="c" d="M277,3447 V3453 Q277,3461 285,3461 H567 Q575,3461 575,3453 V1136 Q575,1128 567,1128 H563"/>
</g>
</svg>
